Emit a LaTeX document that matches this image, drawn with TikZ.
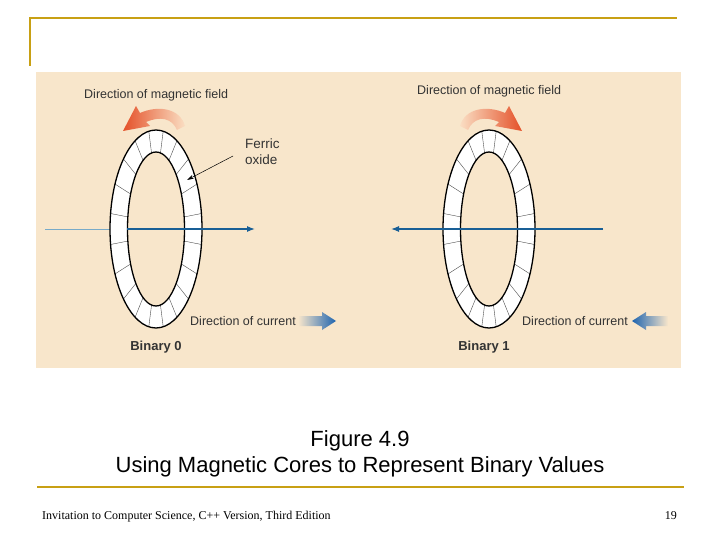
\documentclass[tikz,border=0pt]{standalone}
\usepackage{fontspec}
\setmainfont{Liberation Serif}
\newfontfamily\dfont{Liberation Sans}
\usetikzlibrary{arrows.meta}
\definecolor{gold}{RGB}{200,160,20}
\definecolor{panel}{RGB}{248,230,203}
\definecolor{wire}{RGB}{25,95,150}
\definecolor{lwire}{RGB}{120,170,200}
\definecolor{orng}{RGB}{228,80,40}
\definecolor{lorng}{RGB}{250,222,195}
\definecolor{cblue}{RGB}{30,100,175}
\tikzset{
 lbl/.style={font=\dfont\fontsize{12.5}{14}\selectfont, text=black!80, inner sep=0pt},
 captxt/.style={font=\dfont\fontsize{22}{24}\selectfont, inner sep=0pt},
 foot/.style={font=\fontsize{12}{14}\selectfont, inner sep=0pt},
 ringline/.style={draw=black, line width=1.3pt},
 seg/.style={draw=black!70, line width=0.4pt},
}
\newcommand{\myring}[2]{%
 \fill[white,even odd rule] (#1,#2) ellipse[x radius=46,y radius=99] (#1,#2) ellipse[x radius=28.5,y radius=77];
 \foreach \a in {0,18,...,342}{\draw[seg] ({#1+28.5*cos(\a+9)},{#2+77*sin(\a+9)}) -- ({#1+46*cos(\a+9)},{#2+99*sin(\a+9)});}
 \draw[ringline] (#1,#2) ellipse[x radius=46,y radius=99];
 \draw[ringline] (#1,#2) ellipse[x radius=28.5,y radius=77];
}
\begin{document}
\begin{tikzpicture}[x=1pt,y=-1pt]
\useasboundingbox (0,0) rectangle (720,540);
\fill[white] (0,0) rectangle (720,540);
% frame lines
\draw[gold,line width=2pt] (30,18) -- (677,18);
\draw[gold,line width=2pt] (30,17) -- (30,66);
\draw[gold,line width=1.5pt] (37,487) -- (684,487);
\fill[panel] (36,72) rectangle (681,368);
% left core
\draw[lwire,line width=0.8pt] (45,229) -- (110,229);
\myring{156}{229}
\draw[wire,line width=1.2pt,-{Latex[length=8pt,width=6pt]}] (127,229) -- (255,229);
% right core
\myring{489}{229}
\draw[wire,line width=1.2pt,-{Latex[length=8pt,width=6pt]}] (603,229) -- (391,229);
% field arrows
\shade[left color=orng,right color=lorng] (185,126) .. controls (180,108) and (158,105) .. (140,113) -- (136,106) -- (123,131) -- (150,126) -- (146,122) .. controls (160,116) and (172,118) .. (177,130) -- cycle;
\shade[left color=lorng,right color=orng] (460,126) .. controls (465,108) and (487,105) .. (505,113) -- (509,106) -- (522,131) -- (495,126) -- (499,122) .. controls (485,116) and (473,118) .. (468,130) -- cycle;
% current arrows
\shade[left color=panel,right color=cblue] (298,316) -- (322,316) -- (322,312) -- (336,321) -- (322,330) -- (322,326) -- (298,326) -- cycle;
\shade[left color=cblue,right color=panel] (668,316) -- (646,316) -- (646,312) -- (632,321) -- (646,330) -- (646,326) -- (668,326) -- cycle;
% labels
\node[lbl,anchor=west] (f0) at (84,95) {Direction of magnetic field};
\node[lbl,anchor=west] (f1) at (417,91) {Direction of magnetic field};
\node[lbl,anchor=north west,align=left,font=\dfont\fontsize{13.5}{16}\selectfont] (fo) at (245,139) {Ferric\\oxide};
\coordinate (ptr) at (187,180);
\draw[black,line width=0.5pt,-{Stealth[length=7pt,width=4pt]}] (233,156) -- (ptr);
\node[lbl,anchor=west] (c0) at (190,321) {Direction of current};
\node[lbl,anchor=east] (c1) at (628,321) {Direction of current};
\node[lbl,font=\dfont\bfseries\fontsize{13}{15}\selectfont] (b0) at (156,347) {Binary 0};
\node[lbl,font=\dfont\bfseries\fontsize{13}{15}\selectfont] (b1) at (484,347) {Binary 1};
% caption
\node[captxt] (t1) at (360,441) {Figure 4.9};
\node[captxt] (t2) at (360,467) {Using Magnetic Cores to Represent Binary Values};
\node[foot,anchor=west] (ft) at (42,517) {Invitation to Computer Science, C++ Version, Third Edition};
\node[foot,anchor=east] (pg) at (677,516) {19};
\end{tikzpicture}
\end{document}
